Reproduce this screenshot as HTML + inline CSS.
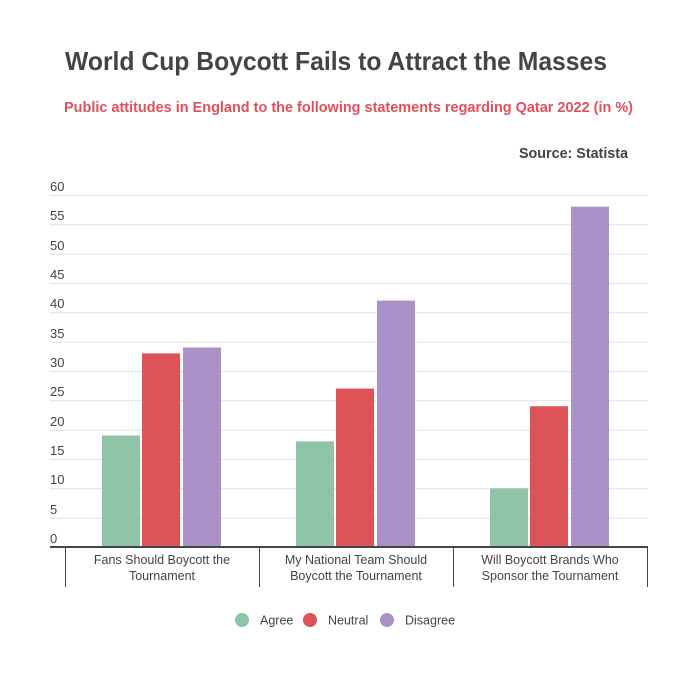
<!DOCTYPE html>
<html><head><meta charset="utf-8"><style>
body{margin:0;background:#fff;}
svg{display:block;font-family:"Liberation Sans",Arial,sans-serif;}
</style></head><body>
<svg width="700" height="682" viewBox="0 0 700 682" xmlns="http://www.w3.org/2000/svg">
<rect width="700" height="682" fill="#fff"/>
<text x="65" y="70" font-size="26" font-weight="bold" fill="#444" textLength="542" lengthAdjust="spacingAndGlyphs">World Cup Boycott Fails to Attract the Masses</text>
<text x="64" y="112" font-size="15" font-weight="bold" fill="#e0505a" textLength="569" lengthAdjust="spacingAndGlyphs">Public attitudes in England to the following statements regarding Qatar 2022 (in %)</text>
<text x="519" y="158" font-size="15" font-weight="bold" fill="#444" textLength="109" lengthAdjust="spacingAndGlyphs">Source: Statista</text>
<g stroke="#e0e0e0" stroke-width="1">
<line x1="50" x2="648" y1="195.5" y2="195.5"/><line x1="50" x2="648" y1="224.8" y2="224.8"/><line x1="50" x2="648" y1="254.2" y2="254.2"/><line x1="50" x2="648" y1="283.5" y2="283.5"/><line x1="50" x2="648" y1="312.8" y2="312.8"/><line x1="50" x2="648" y1="342.2" y2="342.2"/><line x1="50" x2="648" y1="371.5" y2="371.5"/><line x1="50" x2="648" y1="400.8" y2="400.8"/><line x1="50" x2="648" y1="430.2" y2="430.2"/><line x1="50" x2="648" y1="459.5" y2="459.5"/><line x1="50" x2="648" y1="488.8" y2="488.8"/><line x1="50" x2="648" y1="518.2" y2="518.2"/>
</g>
<g font-size="13" fill="#444">
<text x="50" y="191">60</text><text x="50" y="220">55</text><text x="50" y="250">50</text><text x="50" y="279">45</text><text x="50" y="308">40</text><text x="50" y="338">35</text><text x="50" y="367">30</text><text x="50" y="396">25</text><text x="50" y="426">20</text><text x="50" y="455">15</text><text x="50" y="484">10</text><text x="50" y="514">5</text><text x="50" y="543">0</text>
</g>
<g>
<rect x="102" y="435.5" width="38" height="111.5" fill="#8fc4a6"/>
<rect x="142" y="353.4" width="38" height="193.6" fill="#dd5357"/>
<rect x="183" y="347.5" width="38" height="199.5" fill="#ab91c7"/>
<rect x="296" y="441.4" width="38" height="105.6" fill="#8fc4a6"/>
<rect x="336" y="388.6" width="38" height="158.4" fill="#dd5357"/>
<rect x="377" y="300.6" width="38" height="246.4" fill="#ab91c7"/>
<rect x="490" y="488.3" width="38" height="58.7" fill="#8fc4a6"/>
<rect x="530" y="406.2" width="38" height="140.8" fill="#dd5357"/>
<rect x="571" y="206.7" width="38" height="340.3" fill="#ab91c7"/>
</g>
<line x1="50" x2="648" y1="547" y2="547" stroke="#444" stroke-width="2"/>
<g stroke="#444" stroke-width="1">
<line x1="65.5" x2="65.5" y1="547" y2="587"/><line x1="259.5" x2="259.5" y1="547" y2="587"/><line x1="453.5" x2="453.5" y1="547" y2="587"/><line x1="647.5" x2="647.5" y1="547" y2="587"/>
</g>
<g font-size="12.5" fill="#444" text-anchor="middle">
<text x="162" y="564">Fans Should Boycott the</text><text x="162" y="580">Tournament</text>
<text x="356" y="564">My National Team Should</text><text x="356" y="580">Boycott the Tournament</text>
<text x="550" y="564">Will Boycott Brands Who</text><text x="550" y="580">Sponsor the Tournament</text>
</g>
<circle cx="242" cy="620" r="7" fill="#8fc4a6"/><text x="260" y="624.5" font-size="12.5" fill="#444">Agree</text>
<circle cx="310" cy="620" r="7" fill="#dd5357"/><text x="328" y="624.5" font-size="12.5" fill="#444">Neutral</text>
<circle cx="387" cy="620" r="7" fill="#ab91c7"/><text x="405" y="624.5" font-size="12.5" fill="#444">Disagree</text>
</svg>
</body></html>
